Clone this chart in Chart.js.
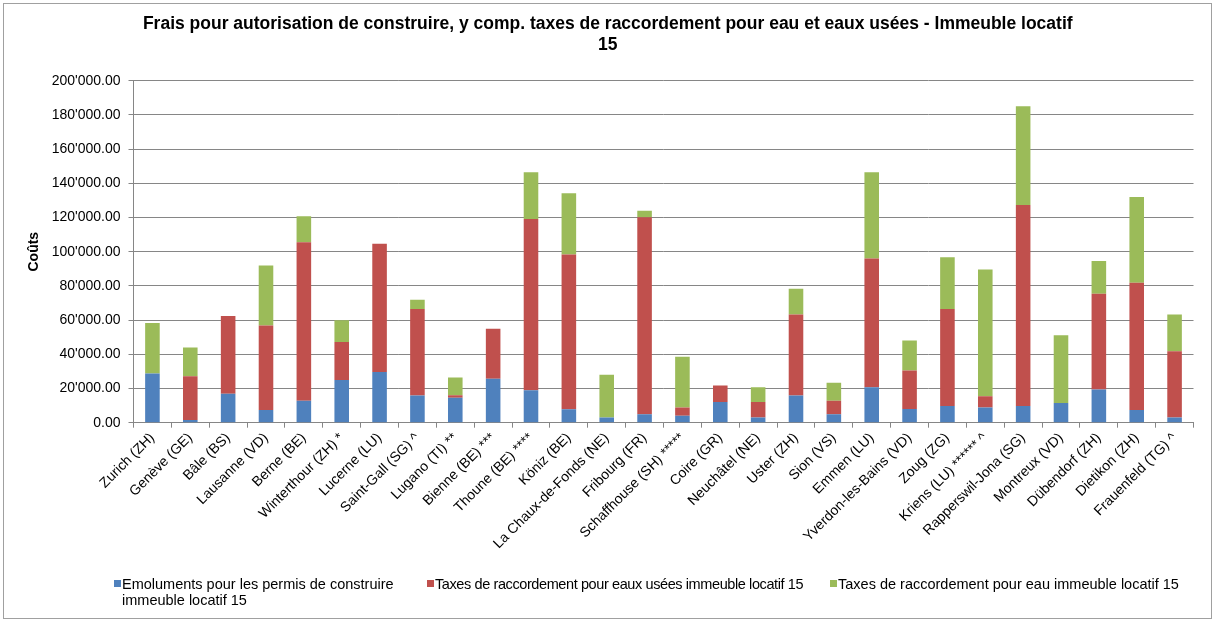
<!DOCTYPE html>
<html>
<head>
<meta charset="utf-8">
<script src="https://cdn.jsdelivr.net/npm/chart.js@4"></script>
<style>
  body { margin: 0; background: #fff; font-family: "Liberation Sans", Arial, sans-serif; }
  #frame { position: absolute; left: 3px; top: 3px; width: 1207px; height: 614px; border: 1px solid #a0a0a0; }
  #wrap { position: absolute; left: 0; top: 0; width: 1214px; height: 622px; }
  .lg { position: absolute; font-size: 14.5px; line-height: 16px; color: #000; white-space: nowrap; }
  .sw { position: absolute; width: 7px; height: 7px; }
</style>
</head>
<body>
<div id="frame"></div>
<div id="wrap"><canvas id="fraisChart"></canvas></div>
<div id="legend"></div>
<script>
// Villes (categories)
const cities = [
  "Zurich (ZH)", "Genève (GE)", "Bâle (BS)", "Lausanne (VD)", "Berne (BE)",
  "Winterthour (ZH) *", "Lucerne (LU)", "Saint-Gall (SG) ^", "Lugano (TI) **",
  "Bienne (BE) ***", "Thoune (BE) ****", "Köniz (BE)", "La Chaux-de-Fonds (NE)",
  "Fribourg (FR)", "Schaffhouse (SH) *****", "Coire (GR)", "Neuchâtel (NE)",
  "Uster (ZH)", "Sion (VS)", "Emmen (LU)", "Yverdon-les-Bains (VD)", "Zoug (ZG)",
  "Kriens (LU) ****** ^", "Rapperswil-Jona (SG)", "Montreux (VD)",
  "Dübendorf (ZH)", "Dietikon (ZH)", "Frauenfeld (TG) ^",
];

// Emoluments pour les permis de construire
const emoluments = [
  28800, 1600, 16900, 7400, 12800, 24900, 29700, 15900, 14600, 25700, 19000,
  7800, 3100, 4900, 4100, 12100, 3100, 15900, 4900, 20800, 8000, 9700, 8900,
  9700, 11500, 19400, 7400, 3100,
];

// Taxes de raccordement eaux usées
const taxesEauxUsees = [
  0, 25600, 45500, 49400, 92700, 22300, 74900, 50600, 1500, 29300, 100100,
  90500, 0, 115200, 4800, 9700, 9000, 47300, 7900, 75200, 22500, 56800, 6500,
  117600, 0, 56000, 74400, 38700,
];

// Taxes de raccordement eau
const taxesEau = [
  29500, 16700, 0, 35100, 15200, 12700, 0, 5400, 10300, 0, 27300, 35800, 24900,
  3900, 29600, 0, 8700, 15100, 10500, 50400, 17500, 30300, 74200, 57700, 39600,
  19100, 50200, 21400,
];

const seriesNames = [
  ["Emoluments pour les permis de construire", "immeuble locatif 15"],
  ["Taxes de raccordement pour eaux usées immeuble locatif 15"],
  ["Taxes de raccordement pour eau immeuble locatif 15"],
];
const colors = ["#4F81BD", "#C0504D", "#9BBB59"];

const titleLines = [
  "Frais pour autorisation de construire, y comp. taxes de raccordement pour eau et eaux usées - Immeuble locatif",
  "15",
];

const FONT = "'Liberation Sans', Arial, sans-serif";
const GRID = "#868686";

function formatCHF(v) {
  return Math.round(v).toString().replace(/\B(?=(\d{3})+(?!\d))/g, "'") + ".00";
}

const ctx = document.getElementById("fraisChart").getContext("2d");
new Chart(ctx, {
  type: "bar",
  data: {
    labels: cities,
    datasets: [
      { label: seriesNames[0].join(" "), data: emoluments, backgroundColor: colors[0] },
      { label: seriesNames[1][0], data: taxesEauxUsees, backgroundColor: colors[1] },
      { label: seriesNames[2][0], data: taxesEau, backgroundColor: colors[2] },
    ],
  },
  options: {
    responsive: true,
    maintainAspectRatio: false,
    animation: false,
    datasets: { bar: { barPercentage: 0.385, categoryPercentage: 1 } },
    layout: { padding: { top: 8, left: 22, right: 20.5, bottom: 0 } },
    plugins: {
      legend: { display: false },
      tooltip: { enabled: false },
      title: {
        display: true,
        text: titleLines,
        color: "#000",
        font: { family: FONT, size: 17.5, weight: "bold", lineHeight: 1.17 },
        padding: { top: 6, bottom: 25.7 },
      },
    },
    scales: {
      x: {
        stacked: true,
        grid: { offset: true, drawOnChartArea: false, drawTicks: true, tickLength: 5, color: GRID },
        border: { color: GRID },
        ticks: {
          autoSkip: false,
          maxRotation: 45,
          minRotation: 45,
          padding: 2,
          color: "#000",
          font: { family: FONT, size: 14 },
        },
        afterFit: (scale) => { scale.height = 199.3; },
      },
      y: {
        stacked: true,
        min: 0,
        max: 200000,
        grid: { color: GRID, tickLength: 5 },
        border: { color: GRID },
        ticks: {
          stepSize: 20000,
          padding: 8,
          color: "#000",
          font: { family: FONT, size: 14 },
          callback: (v) => formatCHF(v),
        },
        title: {
          display: true,
          text: "Coûts",
          color: "#000",
          font: { family: FONT, size: 14, weight: "bold" },
          padding: { top: 4, bottom: 4 },
        },
        afterFit: (scale) => { scale.width = 111.5; },
      },
    },
  },
});

// Legend (HTML, so the first entry can wrap like the original)
const legendPos = [
  { sw: 114, tx: 122, ls: 0 },
  { sw: 427, tx: 435, ls: -0.4 },
  { sw: 830, tx: 838, ls: 0 },
];
const legend = document.getElementById("legend");
seriesNames.forEach((lines, i) => {
  const sw = document.createElement("div");
  sw.className = "sw";
  sw.style.left = legendPos[i].sw + "px";
  sw.style.top = "580px";
  sw.style.background = colors[i];
  legend.appendChild(sw);
  const t = document.createElement("div");
  t.className = "lg";
  t.style.left = legendPos[i].tx + "px";
  t.style.top = "576px";
  t.style.letterSpacing = legendPos[i].ls + "px";
  t.innerHTML = lines.join("<br>");
  legend.appendChild(t);
});
</script>
</body>
</html>
